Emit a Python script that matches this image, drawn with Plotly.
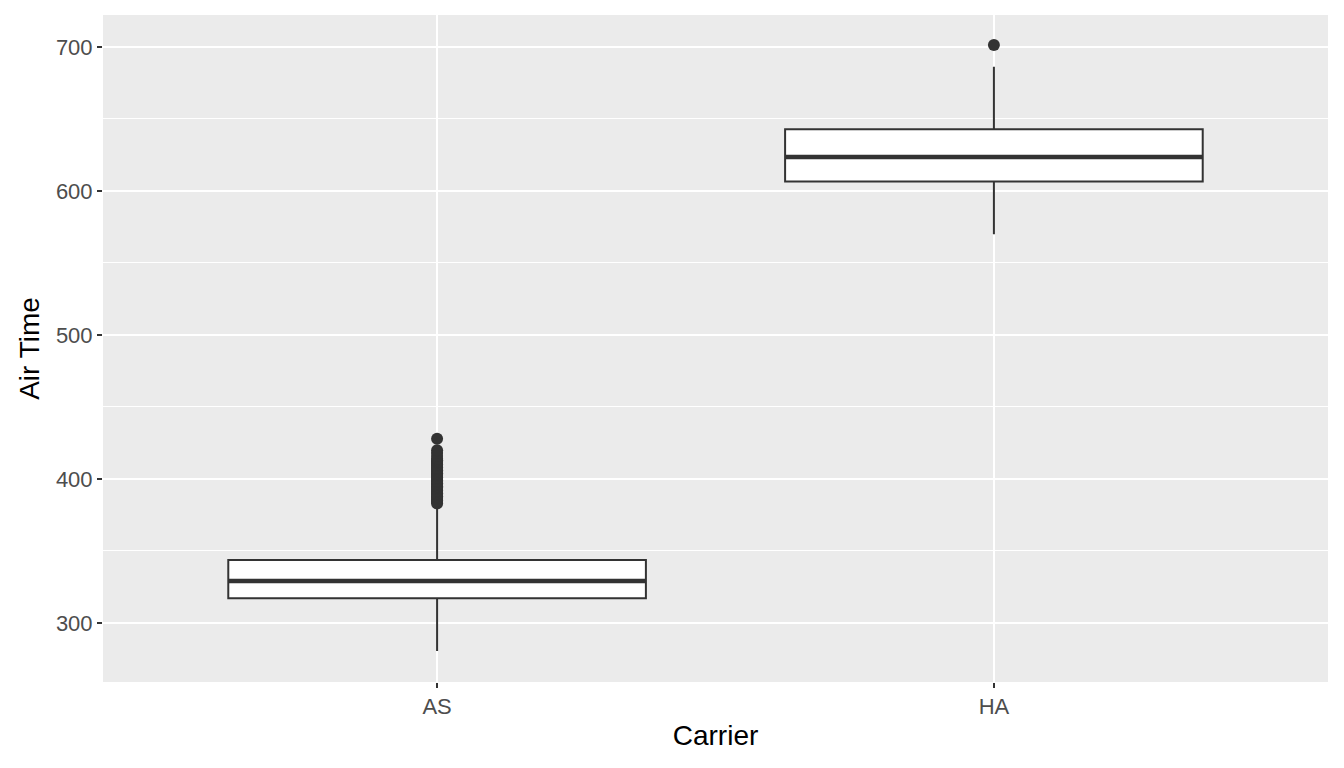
import plotly.graph_objects as go

carriers = ["AS", "HA"]
q1 = [317.2, 606.5]
median = [329.2, 623.6]
q3 = [343.7, 642.8]
lower_fence = [280.6, 569.9]
upper_fence = [382.0, 686.3]

as_outliers = [383, 384, 385, 386, 387, 388, 389, 390, 391, 392, 393, 394, 395,
               396, 397, 398, 399, 400, 401, 402, 403, 404, 405, 406, 407, 408,
               409, 410, 411, 412, 413, 414, 416, 418, 420, 428]
ha_outliers = [701.4]

line_col = "#333333"
fig = go.Figure()

fig.add_trace(go.Box(
    x=carriers, q1=q1, median=median, q3=q3,
    lowerfence=lower_fence, upperfence=upper_fence,
    fillcolor="white", line=dict(color=line_col, width=2),
    width=0.75, whiskerwidth=0, boxpoints=False, showlegend=False,
))

# outlier points
fig.add_trace(go.Scatter(
    x=["AS"] * len(as_outliers) + ["HA"] * len(ha_outliers),
    y=as_outliers + ha_outliers,
    mode="markers", marker=dict(color=line_col, size=12),
    showlegend=False, hoverinfo="y",
))

# thicker median line like ggplot
for i, m in enumerate(median):
    fig.add_shape(type="line", xref="x", yref="y",
                  x0=i - 0.375, x1=i + 0.375, y0=m, y1=m,
                  line=dict(color=line_col, width=4.5))

# page body has an 8px margin, so the figure is shrunk by that much
fig.update_layout(
    width=1336, height=760,
    margin=dict(l=95, r=16, t=7, b=86),
    paper_bgcolor="white", plot_bgcolor="#EBEBEB",
    font=dict(family="Liberation Sans, Arial, sans-serif", color="black"),
)
fig.update_xaxes(
    type="category", categoryorder="array", categoryarray=carriers,
    range=[-0.6, 1.6],
    showgrid=True, gridcolor="white", gridwidth=2,
    ticks="outside", ticklen=5, tickwidth=1.5, tickcolor=line_col,
    tickfont=dict(size=22, color="#4D4D4D"),
    title=dict(text="Carrier", font=dict(size=28), standoff=6),
    zeroline=False, showline=False,
)
fig.update_yaxes(
    range=[259, 722.2],
    tickvals=[300, 400, 500, 600, 700],
    showgrid=True, gridcolor="white", gridwidth=2,
    minor=dict(tickvals=[350, 450, 550, 650], showgrid=True,
               gridcolor="white", gridwidth=1),
    ticks="outside", ticklen=5, tickwidth=1.5, tickcolor=line_col,
    tickfont=dict(size=22, color="#4D4D4D"),
    title=dict(text="Air Time", font=dict(size=28), standoff=8),
    zeroline=False, showline=False,
)

fig.write_html("out.html")
